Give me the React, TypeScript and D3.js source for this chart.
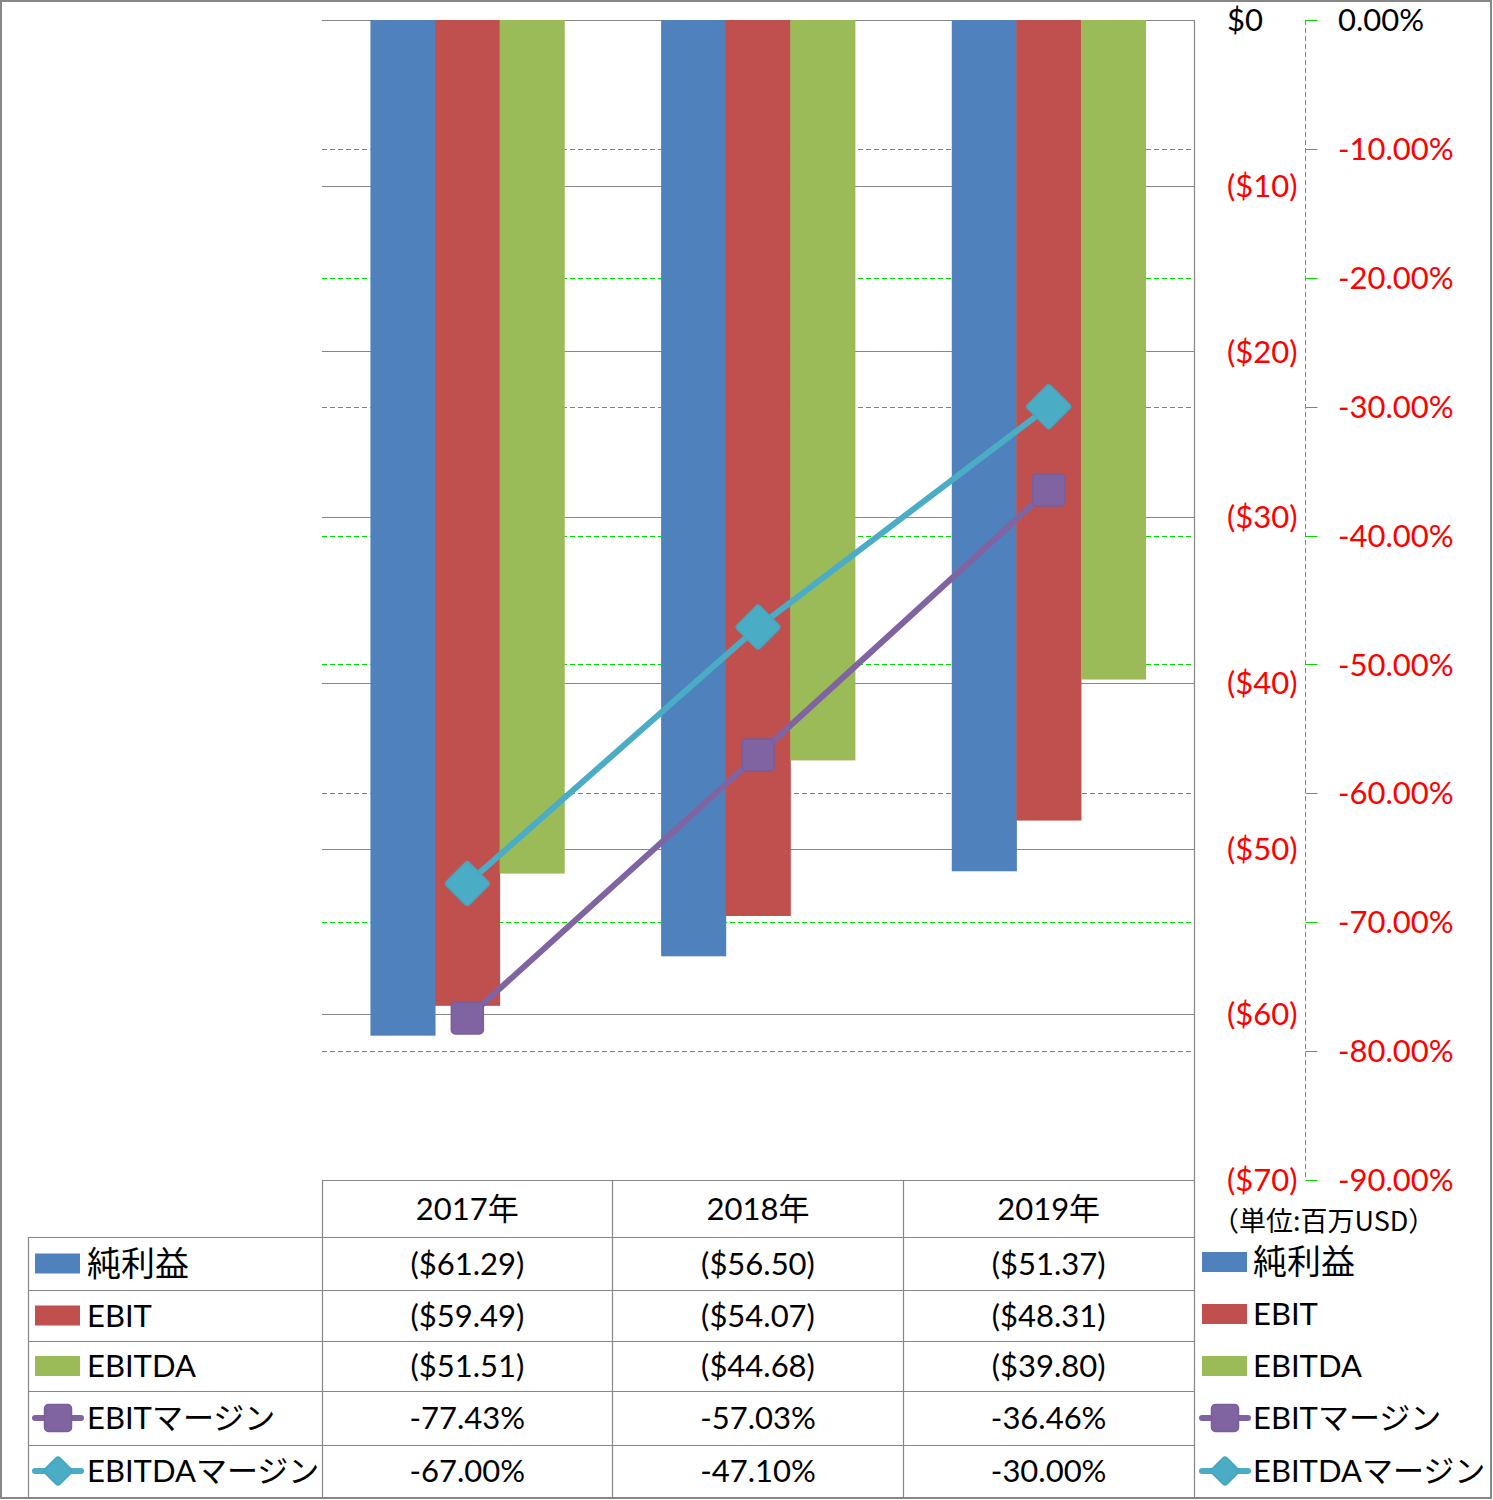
import React, { useEffect, useRef } from "react";
import * as d3 from "d3";

const categories = ["2017年", "2018年", "2019年"];
const netIncome = [-61.29, -56.5, -51.37];
const ebit = [-59.49, -54.07, -48.31];
const ebitda = [-51.51, -44.68, -39.8];
const ebitMargin = [-77.43, -57.03, -36.46];
const ebitdaMargin = [-67.0, -47.1, -30.0];

const dollarTicks = [0, -10, -20, -30, -40, -50, -60, -70];
const pctTicks = [0, -10, -20, -30, -40, -50, -60, -70, -80, -90];

const barSeries = [
  { name: "純利益", values: netIncome, color: "#4f81bd" },
  { name: "EBIT", values: ebit, color: "#c0504d" },
  { name: "EBITDA", values: ebitda, color: "#9bbb59" },
];
const lineSeries = [
  { name: "EBITマージン", values: ebitMargin, color: "#8064a2", marker: "square" },
  { name: "EBITDAマージン", values: ebitdaMargin, color: "#4bacc6", marker: "diamond" },
];

const FONT = "Lato, 'Noto Sans CJK JP', sans-serif";
const GRID = "#878787";
const FS = 31;

const fmtDollar = (v: number) => (v === 0 ? "$0" : `($${Math.abs(v)})`);
const fmtDollar2 = (v: number) => `($${Math.abs(v).toFixed(2)})`;
const fmtPct = (v: number) => `${v.toFixed(2)}%`;

export default function App() {
  const svgRef = useRef<SVGSVGElement>(null);

  useEffect(() => {
    if (!svgRef.current) return;
    const svg = d3.select(svgRef.current);
    svg.selectAll("*").remove();

    const W = 1493;
    const H = 1500;
    const plot = { left: 322, right: 1194, top: 20, bottom: 1180 };

    const yDollar = d3.scaleLinear().domain([0, -70]).range([plot.top, plot.bottom]);
    const yPct = d3.scaleLinear().domain([0, -90]).range([plot.top, plot.bottom]);
    const x = d3.scaleBand().domain(categories).range([plot.left, plot.right]);
    const groupW = (x.bandwidth() * 3) / 4.5;

    svg.attr("width", W).attr("height", H).style("font-family", FONT);

    // outer border
    svg
      .append("rect")
      .attr("x", 1)
      .attr("y", 1)
      .attr("width", W - 3)
      .attr("height", H - 3)
      .attr("fill", "white")
      .attr("stroke", GRID)
      .attr("stroke-width", 2);

    // green dashed percent gridlines
    svg
      .append("g")
      .selectAll("line")
      .data(pctTicks.filter((t) => t !== 0 && t !== -90))
      .enter()
      .append("line")
      .attr("x1", plot.left)
      .attr("x2", plot.right)
      .attr("y1", (d) => Math.round(yPct(d)) + 0.5)
      .attr("y2", (d) => Math.round(yPct(d)) + 0.5)
      .attr("stroke", "#00e000")
      .attr("stroke-width", 1)
      .attr("stroke-dasharray", "5,3");

    // gray dollar gridlines
    svg
      .append("g")
      .selectAll("line")
      .data(dollarTicks)
      .enter()
      .append("line")
      .attr("x1", plot.left)
      .attr("x2", plot.right)
      .attr("y1", (d) => Math.round(yDollar(d)) + 0.5)
      .attr("y2", (d) => Math.round(yDollar(d)) + 0.5)
      .attr("stroke", GRID)
      .attr("stroke-width", 1.2);

    // bars
    barSeries.forEach((s, si) => {
      svg
        .append("g")
        .selectAll("rect")
        .data(s.values)
        .enter()
        .append("rect")
        .attr("x", (d, i) => (x(categories[i]) as number) + x.bandwidth() / 2 - groupW / 2 + (si * groupW) / 3)
        .attr("width", groupW / 3 + 0.5)
        .attr("y", yDollar(0))
        .attr("height", (d) => yDollar(d) - yDollar(0))
        .attr("fill", s.color);
    });

    const cx = (i: number) => (x(categories[i]) as number) + x.bandwidth() / 2;

    const drawMarker = (
      g: d3.Selection<SVGGElement, unknown, null, undefined>,
      kind: string,
      px: number,
      py: number,
      size: number,
      color: string
    ) => {
      if (kind === "square") {
        g.append("rect")
          .attr("x", px - size / 2)
          .attr("y", py - size / 2)
          .attr("width", size)
          .attr("height", size)
          .attr("rx", 4)
          .attr("fill", color)
          .attr("stroke", "#7a5d9c")
          .attr("stroke-width", 1.5);
      } else {
        const s = size / Math.SQRT2;
        g.append("rect")
          .attr("x", -s / 2)
          .attr("y", -s / 2)
          .attr("width", s)
          .attr("height", s)
          .attr("rx", 3)
          .attr("fill", color)
          .attr("stroke", "#46a5bf")
          .attr("stroke-width", 1.5)
          .attr("transform", `translate(${px},${py}) rotate(45)`);
      }
    };

    // lines
    lineSeries.forEach((s) => {
      const line = d3
        .line<number>()
        .x((d, i) => cx(i))
        .y((d) => yPct(d));
      svg
        .append("path")
        .datum(s.values)
        .attr("d", line)
        .attr("fill", "none")
        .attr("stroke", s.color)
        .attr("stroke-width", 6)
        .attr("stroke-linejoin", "round");
    });
    lineSeries.forEach((s) => {
      const g = svg.append("g");
      s.values.forEach((v, i) => {
        drawMarker(g, s.marker, cx(i), yPct(v), s.marker === "square" ? 32 : 46, s.color);
      });
    });

    // right value axis (percent) line + ticks
    const axX = 1305.5;
    svg
      .append("line")
      .attr("x1", axX)
      .attr("x2", axX)
      .attr("y1", plot.top)
      .attr("y2", plot.bottom)
      .attr("stroke", "#00e000")
      .attr("stroke-dasharray", "5,3");
    svg
      .append("g")
      .selectAll("line")
      .data(pctTicks)
      .enter()
      .append("line")
      .attr("x1", axX)
      .attr("x2", axX + 12)
      .attr("y1", (d) => Math.round(yPct(d)) + 0.5)
      .attr("y2", (d) => Math.round(yPct(d)) + 0.5)
      .attr("stroke", "#00e000");

    // dollar axis labels
    svg
      .append("g")
      .selectAll("text")
      .data(dollarTicks)
      .enter()
      .append("text")
      .attr("x", 1227)
      .attr("y", (d) => yDollar(d))
      .attr("dy", "0.36em")
      .attr("font-size", FS)
      .attr("fill", (d) => (d < 0 ? "#ff0000" : "#000"))
      .text(fmtDollar);

    // percent axis labels
    svg
      .append("g")
      .selectAll("text")
      .data(pctTicks)
      .enter()
      .append("text")
      .attr("x", 1338)
      .attr("y", (d) => yPct(d))
      .attr("dy", "0.36em")
      .attr("font-size", FS)
      .attr("fill", (d) => (d < 0 ? "#ff0000" : "#000"))
      .text(fmtPct);

    svg
      .append("text")
      .attr("x", 1212)
      .attr("y", 1221)
      .attr("dy", "0.36em")
      .attr("font-size", 27)
      .attr("font-family", "'Noto Sans CJK JP', sans-serif")
      .text("（単位:百万USD）");

    // data table
    const rowsY = [1180, 1237, 1290, 1341, 1391, 1445, 1497];
    const colsX = [28, 322, 612, 903, 1194];
    const tbl = svg.append("g").attr("stroke", GRID).attr("stroke-width", 1.2);
    rowsY.forEach((ry, i) => {
      tbl
        .append("line")
        .attr("x1", i === 0 ? colsX[1] : colsX[0])
        .attr("x2", colsX[4])
        .attr("y1", ry + 0.5)
        .attr("y2", ry + 0.5);
    });
    colsX.forEach((cxv, i) => {
      tbl
        .append("line")
        .attr("x1", cxv + 0.5)
        .attr("x2", cxv + 0.5)
        .attr("y1", i === 0 ? rowsY[1] : i === 4 ? plot.top : rowsY[0])
        .attr("y2", rowsY[6]);
    });

    // header
    categories.forEach((c, i) => {
      svg
        .append("text")
        .attr("x", cx(i))
        .attr("y", (rowsY[0] + rowsY[1]) / 2)
        .attr("dy", "0.36em")
        .attr("text-anchor", "middle")
        .attr("font-size", FS)
        .text(c);
    });

    const tableRows = [
      ...barSeries.map((s) => ({ ...s, kind: "bar", fmt: fmtDollar2 })),
      ...lineSeries.map((s) => ({ ...s, kind: s.marker, fmt: fmtPct })),
    ];

    const legendKey = (kx: number, ky: number, r: any) => {
      const g = svg.append("g");
      if (r.kind === "bar") {
        g.append("rect")
          .attr("x", kx)
          .attr("y", ky - 10)
          .attr("width", 45)
          .attr("height", 20)
          .attr("fill", r.color);
      } else {
        g.append("line")
          .attr("x1", kx)
          .attr("x2", kx + 46)
          .attr("y1", ky)
          .attr("y2", ky)
          .attr("stroke", r.color)
          .attr("stroke-width", 6)
          .attr("stroke-linecap", "round");
        drawMarker(g as any, r.kind, kx + 23, ky, r.kind === "square" ? 27 : 30, r.color);
      }
    };

    // series name; the all-kanji label is set a little larger, as in the reference
    const nameText = (tx: number, ty: number, name: string) =>
      svg
        .append("text")
        .attr("x", tx)
        .attr("y", ty)
        .attr("dy", "0.36em")
        .attr("font-size", /^[\u4e00-\u9fff]+$/.test(name) ? 34 : FS)
        .text(name);

    tableRows.forEach((r, ri) => {
      const my = (rowsY[ri + 1] + rowsY[ri + 2]) / 2;
      legendKey(35, my, r);
      nameText(87, my, r.name);
      r.values.forEach((v: number, i: number) => {
        svg
          .append("text")
          .attr("x", cx(i))
          .attr("y", my)
          .attr("dy", "0.36em")
          .attr("text-anchor", "middle")
          .attr("font-size", FS)
          .text(r.fmt(v));
      });
    });

    // right legend
    const legY = [1262, 1314, 1366, 1418, 1471];
    tableRows.forEach((r, ri) => {
      legendKey(1202, legY[ri], r);
      nameText(1253, legY[ri], r.name);
    });
  }, []);

  return (
    <div style={{ position: "absolute", left: 0, top: 0 }}>
      <svg ref={svgRef} style={{ display: "block" }} />
    </div>
  );
}
